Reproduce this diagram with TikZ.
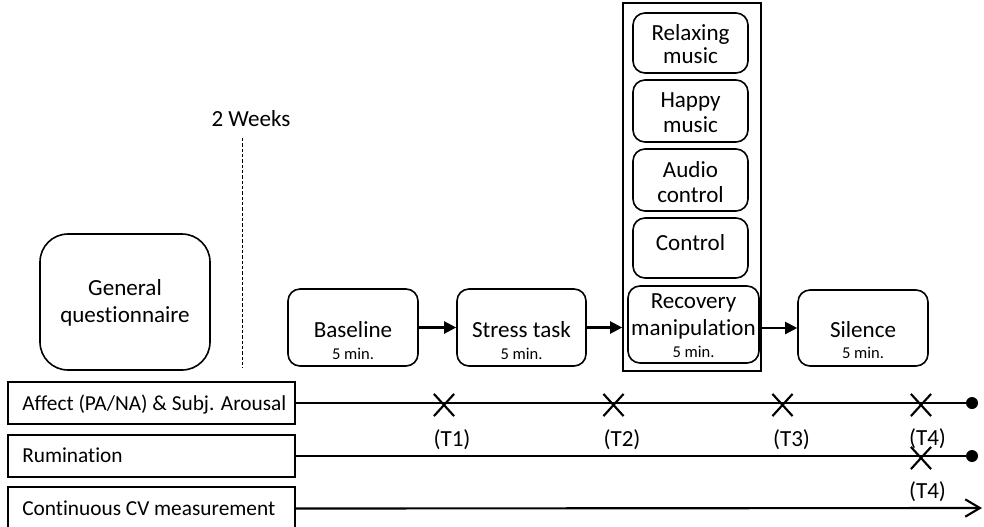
\documentclass[tikz,border=0pt]{standalone}
\usepackage{fontspec}
\setmainfont{Carlito}[Ligatures=NoCommon]
\usetikzlibrary{arrows.meta,fit,shapes.misc}
\begin{document}
\begin{tikzpicture}[x=0.75pt,y=-0.75pt,
  rbox/.style={draw, line width=1.2pt, rounded corners=9pt, inner sep=0pt},
  bigbox/.style={draw, line width=1.2pt, rounded corners=21pt, inner sep=0pt},
  sbox/.style={draw, line width=1.2pt, inner sep=0pt},
  big/.style={font=\fontsize{17.3}{20}\selectfont, inner sep=0pt, anchor=base},
  small/.style={font=\fontsize{12.4}{14}\selectfont, inner sep=0pt, anchor=base},
  rowtxt/.style={font=\fontsize{16}{19}\selectfont, inner sep=0pt, anchor=base west},
  tline/.style={line width=1.6pt},
  flow/.style={line width=1.6pt, -{Triangle[length=9pt,width=9pt]}},
  xmark/.style={cross out, draw, line width=1.6pt, minimum width=13.5pt, minimum height=15pt, inner sep=0pt},
  enddot/.style={circle, fill, minimum size=9pt, inner sep=0pt},
]
\useasboundingbox (0,0) rectangle (984,526);

% general questionnaire
\node[bigbox, fit={(40,234) (210,370)}] (gq) {};
\node[big] (gq1) at (125,295) {General};
\node[big] (gq2) at (125,322) {questionnaire};

% 2 weeks
\node[big] (weeks) at (251,126) {2 Weeks};
\coordinate (dashtop) at (242,138);
\coordinate (dashbot) at (242,368);
\draw[line width=0.75pt, dash pattern=on 2.5pt off 1.5pt] (dashtop) -- (dashbot);

% row boxes
\node[sbox, fit={(8,382) (295,424)}] (aff) {};
\node[rowtxt] (afft) at (22,410) {Affect (PA/NA) \& Subj. Arousal};
\node[sbox, fit={(8,435) (295,477)}] (rum) {};
\node[rowtxt] (rumt) at (22,462) {Rumination};
\node[sbox, fit={(8,487) (295,530)}] (cv) {};
\node[rowtxt] (cvt) at (22,515) {Continuous CV measurement};

% procedure boxes
\node[rbox, fit={(288,289) (418,366)}] (base) {};
\node[big] (base1) at (353,337) {Baseline};
\node[small] (base2) at (353,359) {5 min.};
\node[rbox, fit={(457,289) (586,366)}] (stress) {};
\node[big] (stress1) at (521.5,337) {Stress task};
\node[small] (stress2) at (521.5,359) {5 min.};

\node[sbox, fit={(623,3) (761,371)}] (outer) {};
\node[rbox, fit={(633,13) (748,73)}] (relax) {};
\node[big] (relax1) at (690.5,40) {Relaxing};
\node[big] (relax2) at (690.5,63) {music};
\node[rbox, fit={(633,80) (748,142)}] (happy) {};
\node[big] (happy1) at (690.5,107) {Happy};
\node[big] (happy2) at (690.5,132) {music};
\node[rbox, fit={(633,149) (748,211)}] (audio) {};
\node[big] (audio1) at (690.5,177) {Audio};
\node[big] (audio2) at (690.5,202) {control};
\node[rbox, fit={(633,218) (748,278)}] (ctrl) {};
\node[big] (ctrl1) at (690.5,250) {Control};
\node[rbox, fit={(628,286) (759,363)}] (rec) {};
\node[big] (rec1) at (693.5,308) {Recovery};
\node[big] (rec2) at (693.5,335) {manipulation};
\node[small] (rec3) at (693.5,357) {5 min.};

\node[rbox, fit={(798,290) (928,366)}] (sil) {};
\node[big] (sil1) at (863,337) {Silence};
\node[small] (sil2) at (863,358) {5 min.};

% flow arrows
\draw[flow] (base.east) -- (stress.west);
\draw[flow] (stress.east) -- (stress.east -| outer.west);
\draw[flow] (rec.east |- sil.west) -- (sil.west);

% timelines
\node[enddot] (d1) at (972,403) {};
\node[enddot] (d2) at (972,456) {};
\coordinate (cvend) at (982,508);
\draw[tline] (aff.east) -- (d1.center);
\draw[tline] (rum.east) -- (d2.center);
\draw[tline, -{Straight Barb[length=11pt,width=13pt]}] (cv.east) -- (cvend);

% measurement points
\node[xmark] (x1) at (444,405) {};
\node[xmark] (x2) at (613.5,405) {};
\node[xmark] (x3) at (782.5,405) {};
\node[xmark] (x4) at (921,405) {};
\node[xmark] (x5) at (921,458) {};
\node[big] (t1) at (452,446) {(T1)};
\node[big] (t2) at (622,446) {(T2)};
\node[big] (t3) at (791.5,446) {(T3)};
\node[big] (t4) at (927.5,445) {(T4)};
\node[big] (t5) at (927.5,498) {(T4)};
\end{tikzpicture}
\end{document}
